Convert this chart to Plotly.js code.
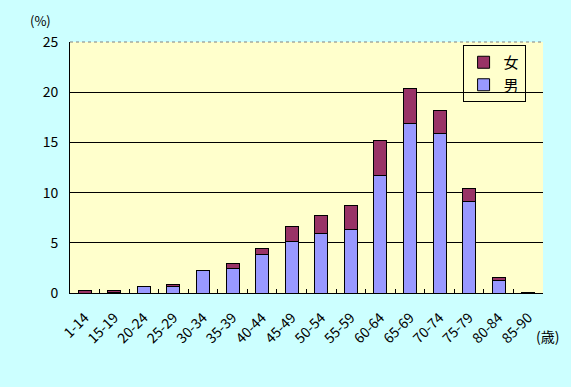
<!DOCTYPE html>
<html><head><meta charset="utf-8">
<script src="https://cdn.plot.ly/plotly-3.0.1.min.js"></script>
<style>body{margin:0;background:#CCFFFF}</style>
</head><body>
<div id="chart" style="width:571px;height:387px"></div>
<script>
const categories = ["1-14","15-19","20-24","25-29","30-34","35-39","40-44","45-49","50-54","55-59","60-64","65-69","70-74","75-79","80-84","85-90"];
const male   = [0.0, 0.1, 0.6, 0.65, 2.2, 2.45, 3.85, 5.1, 5.95, 6.35, 11.7, 16.9, 15.9, 9.15, 1.25, 0.05];
const female = [0.2, 0.1, 0.0, 0.15, 0.0, 0.45, 0.55, 1.5, 1.75, 2.35, 3.5, 3.5, 2.3, 1.25, 0.25, 0.05];
const yTicks = [0, 5, 10, 15, 20, 25];
const font = "'Noto Sans CJK JP', 'DejaVu Sans', sans-serif";

const traces = [
  {type:'bar', name:'男', x:categories, y:male, marker:{color:'#9999FF', line:{color:'#000000', width:1}}},
  {type:'bar', name:'女', x:categories, y:female, marker:{color:'#993366', line:{color:'#000000', width:1}}}
];
const layout = {
  width:571, height:387,
  paper_bgcolor:'#CCFFFF', plot_bgcolor:'#FFFFCC',
  margin:{l:70, r:28, t:42, b:94},
  barmode:'stack', bargap:0.56,
  font:{family:font, size:12, color:'#000000'},
  showlegend:true,
  legend:{x:0.83, y:0.988, xanchor:'left', yanchor:'top', traceorder:'reversed',
    bgcolor:'rgba(0,0,0,0)', bordercolor:'#000000', borderwidth:1,
    font:{family:font, size:15}, itemwidth:30, tracegroupgap:2},
  xaxis:{type:'category', showline:true, linecolor:'#000000', linewidth:1,
    ticks:'inside', tickson:'boundaries', ticklen:4, tickcolor:'#000000',
    tickangle:-45, ticklabelstandoff:10, tickfont:{family:font, size:14}, showgrid:false},
  yaxis:{range:[0,25], tickvals:yTicks, ticktext:yTicks.map(String), showline:true, linecolor:'#000000', linewidth:1,
    showgrid:true, gridcolor:'#000000', gridwidth:1, ticks:'', ticklen:0, ticklabelstandoff:8,
    tickfont:{family:font, size:14}, zeroline:false},
  shapes:[{type:'line', xref:'paper', yref:'paper', x0:0, x1:1, y0:1, y1:1, line:{color:'#808080', width:1, dash:'dot'}}],
  annotations:[
    {text:'(%)', xref:'paper', yref:'paper', x:-0.062, y:1.085, xanchor:'center', yanchor:'middle', showarrow:false, font:{family:font, size:13}},
    {text:'(歳)', xref:'paper', yref:'paper', x:1.01, y:-0.17, xanchor:'center', yanchor:'middle', showarrow:false, font:{family:font, size:14}}
  ]
};
Plotly.newPlot('chart', traces, layout, {displayModeBar:false, staticPlot:true});
</script>
</body></html>
